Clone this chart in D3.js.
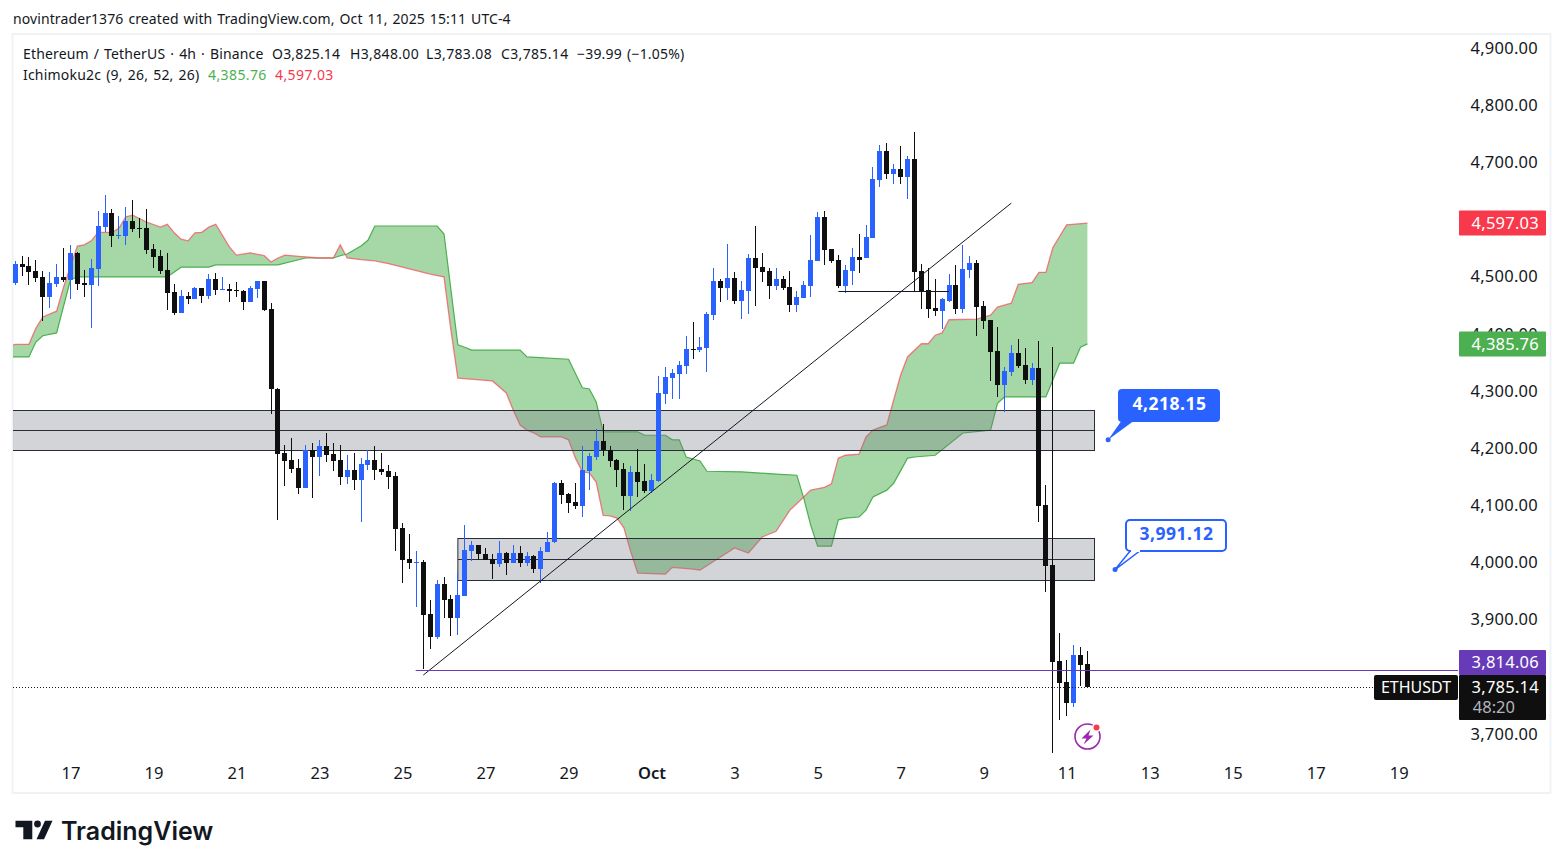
<!DOCTYPE html>
<html lang="en">
<head>
<meta charset="UTF-8">
<title>ETHUSDT 4h</title>
<script src="https://d3js.org/d3.v7.min.js"></script>
<style>
  body { margin: 0; background: #fff; }
  svg { display: block; font-family: "Noto Sans", sans-serif; }
  .tick text { fill: #131722; }
</style>
</head>
<body>
<svg id="chart" width="1563" height="868"></svg>
<script>
// candles, one entry per 4h bar
var opens = [
  4492,4525,4522,4513,4502,4467,4490,4502,4497,4544,4492,4488,4516,4590,4614,4574,4574,4600,4588,4588,
  4551,4539,4515,4476,4439,4469,4464,4483,4469,4499,4480,4481,4480,4478,4459,4481,4495,4446,4307,4195,
  4182,4168,4133,4200,4188,4207,4193,4182,4153,4165,4147,4174,4182,4167,4163,4154,4063,4009,4002,4004,
  3913,3873,3965,3939,3906,3944,4023,4034,4019,4009,4000,4020,4002,4020,4002,4014,3992,4021,4040,4142,
  4123,4109,4102,4163,4188,4216,4200,4182,4167,4119,4161,4146,4128,4146,4298,4326,4333,4347,4377,4375,
  4378,4436,4496,4483,4501,4461,4478,4536,4520,4513,4487,4499,4485,4454,4466,4487,4531,4608,4552,4532,
  4487,4513,4538,4536,4571,4672,4723,4683,4691,4677,4709,4513,4480,4448,4443,4461,4489,4447,4515,4527,
  4452,4427,4373,4314,4336,4370,4349,4322,4343,4104,3999,3831,3794,3757,3841,3825.14
];
var highs = [
  4530,4539,4537,4532,4513,4511,4525,4553,4558,4546,4515,4534,4618,4646,4621,4609,4625,4637,4606,4621,
  4560,4550,4544,4490,4480,4476,4485,4483,4508,4509,4502,4490,4494,4480,4487,4495,4495,4457,4309,4209,
  4221,4184,4209,4212,4217,4230,4212,4209,4191,4195,4186,4200,4207,4195,4174,4161,4072,4053,4023,4007,
  3938,3972,3978,3946,3987,4069,4041,4034,4028,4018,4041,4021,4034,4032,4021,4016,4030,4056,4145,4147,
  4125,4142,4207,4195,4237,4245,4207,4184,4177,4172,4202,4175,4158,4329,4345,4342,4356,4399,4424,4398,
  4441,4518,4499,4560,4511,4496,4543,4592,4545,4518,4518,4504,4513,4478,4496,4576,4616,4618,4552,4541,
  4523,4553,4578,4593,4695,4733,4737,4700,4732,4714,4756,4525,4518,4499,4466,4508,4524,4559,4539,4532,
  4461,4427,4415,4345,4384,4394,4378,4352,4391,4139,4380,3880,3833,3859,3855,3848
];
var lows = [
  4489,4504,4488,4494,4425,4448,4485,4494,4464,4480,4467,4413,4487,4581,4555,4569,4558,4581,4571,4543,
  4518,4508,4445,4436,4439,4455,4464,4457,4464,4471,4480,4459,4467,4445,4459,4466,4443,4263,4077,4137,
  4160,4123,4133,4116,4154,4179,4163,4139,4140,4130,4074,4165,4147,4156,4132,4023,3967,3992,3925,3817,
  3852,3869,3906,3875,3876,3944,4006,4007,4007,3974,3995,3981,4002,3995,3997,3985,3967,4021,4037,4105,
  4090,4097,4083,4130,4182,4189,4170,4135,4095,4093,4118,4125,4125,4144,4280,4289,4289,4333,4359,4371,
  4336,4427,4459,4462,4455,4429,4438,4452,4494,4464,4480,4480,4441,4441,4466,4468,4531,4523,4527,4483,
  4475,4489,4510,4536,4571,4660,4674,4665,4665,4639,4476,4447,4431,4434,4412,4459,4438,4440,4501,4399,
  4412,4321,4293,4266,4329,4343,4315,4314,4074,3952,3670,3728,3735,3750,3787,3783.08
];
var closes = [
  4525,4520,4511,4501,4467,4492,4502,4497,4544,4490,4488,4518,4592,4614,4574,4576,4600,4586,4586,4550,
  4537,4513,4474,4439,4469,4464,4483,4469,4499,4480,4481,4478,4478,4459,4483,4495,4445,4307,4193,4181,
  4167,4133,4200,4188,4207,4191,4181,4153,4165,4147,4175,4182,4165,4161,4153,4062,4007,4002,4004,3911,
  3873,3965,3938,3906,3946,4025,4034,4018,4007,4000,4020,4002,4020,4002,4014,3992,4023,4040,4142,4121,
  4107,4102,4165,4189,4216,4200,4181,4165,4119,4161,4144,4128,4147,4300,4328,4335,4349,4377,4375,4380,
  4438,4496,4483,4501,4461,4480,4536,4518,4511,4487,4499,4483,4454,4468,4489,4532,4608,4550,4531,4487,
  4515,4538,4532,4573,4674,4723,4683,4691,4677,4709,4511,4478,4447,4443,4464,4489,4447,4517,4527,4450,
  4426,4371,4314,4338,4370,4347,4322,4343,4102,3997,3829,3792,3757,3841,3824,3785.14
];

// cloud edges: bar number and price at each corner of the line
var redBars = [-1,0,2,3,4,6,7,9,10,11,12,14,15,16,17,19,21,22,23,24,25,26,27,28,29,31,32,34,36,37,38,39,41,44,46,47,48,50,52,54,60,62,63,64,69,71,72,73,74,75,76,79,80,81,82,83,84,85,86,87,88,89,90,94,95,98,99,104,106,108,110,112,114,115,117,118,119,120,122,123,124,126,127,128,129,131,132,133,134,135,139,141,142,144,145,147,148,149,150,152,155];
var redVals = [4380,4385,4385,4413,4433,4443,4485,4557,4559,4566,4581,4581,4588,4608,4611,4599,4590,4595,4580,4569,4566,4580,4581,4590,4595,4555,4541,4545,4540,4529,4536,4541,4539,4536,4536,4559,4536,4533,4531,4526,4508,4503,4410,4326,4321,4300,4270,4244,4235,4230,4223,4223,4218,4186,4162,4160,4144,4086,4085,4081,4064,4022,3985,3983,3995,3992,3990,4029,4020,4048,4058,4095,4118,4130,4135,4141,4186,4191,4193,4223,4235,4244,4288,4331,4363,4386,4386,4401,4405,4428,4429,4436,4450,4457,4490,4493,4511,4511,4554,4594,4597.03];
var greenBars = [-1,2,3,4,6,8,9,22,24,28,29,38,42,46,47,48,50,51,52,61,62,63,64,65,66,73,74,80,82,83,84,85,90,91,94,95,96,97,99,100,105,110,113,114,115,116,118,119,120,122,123,124,126,127,129,130,133,137,141,142,143,149,151,153,154,155];
var greenVals = [4363,4363,4389,4400,4405,4498,4503,4503,4520,4520,4524,4524,4536,4536,4540,4543,4557,4567,4592,4592,4578,4480,4384,4380,4375,4375,4363,4359,4309,4307,4284,4232,4232,4226,4226,4218,4218,4188,4181,4163,4162,4158,4156,4116,4069,4032,4032,4078,4081,4083,4095,4118,4130,4142,4186,4188,4191,4230,4235,4282,4293,4293,4352,4352,4380,4385.76];

// drawings
var zoneStart = [-1, 64];
var zoneEnd = [156, 156];
var zoneTop = [4269.5, 4045.6];
var zoneMid = [4234.6, 4008.9];
var zoneBottom = [4199.6, 3972.2];
var trendBars = [59, 144];
var trendVals = [3806.5, 4632];
var flatBars = [119, 135];
var flatVal = 4477.7;
var supportStart = 57.9;
var supportVal = 3814.06;
var lastClose = 3785.14;
var redLast = 4597.03;
var greenLast = 4385.76;
var noteVals = [4218.15, 3991.12];
var noteBars = [158, 159];

// axes, 3,800 and 4,600 are not shown because the price labels cover them
var priceTicks = [3700,3900,4000,4100,4200,4300,4400,4500,4700,4800,4900];
var timeBars = [8,20,32,44,56,68,80,92,104,116,128,140,152,164,176,188,200];
var timeLabels = ["17","19","21","23","25","27","29","Oct","3","5","7","9","11","13","15","17","19"];

var fmt = d3.format(",.2f");
var svg = d3.select("#chart");

var x = d3.scaleLinear().domain([0, 155]).range([15.1, 1087.4]);
var y = d3.scaleLinear().domain([3785.14, 4900]).range([687.3, 49.9]);

var left = 13, right = 1458, top_ = 35, bottom = 792;

// frame
svg.append("rect").attr("x", 12.5).attr("y", 34).attr("width", 1538).attr("height", 759)
  .attr("fill", "#fff").attr("stroke", "#f0f3f5").attr("stroke-width", 2);

svg.append("clipPath").attr("id", "plot").append("rect")
  .attr("x", left).attr("y", top_).attr("width", right - left).attr("height", bottom - top_);

var plot = svg.append("g").attr("clip-path", "url(#plot)");

// cloud, forward along green and back along red
var redPts = redBars.map(function(b, i) { return [x(b), y(redVals[i])]; });
var greenPts = greenBars.map(function(b, i) { return [x(b), y(greenVals[i])]; });
var line = d3.line();

plot.append("path").attr("d", line(greenPts.concat(redPts.slice().reverse())) + "Z")
  .attr("fill", "#4caf50").attr("fill-opacity", 0.5).attr("fill-rule", "nonzero");
plot.append("path").attr("d", line(greenPts)).attr("fill", "none")
  .attr("stroke", "#4caf50").attr("stroke-width", 1.2);
plot.append("path").attr("d", line(redPts)).attr("fill", "none")
  .attr("stroke", "#f7525f").attr("stroke-opacity", 0.75).attr("stroke-width", 1.3);

// grey zones
zoneTop.forEach(function(t, i) {
  var x0 = x(zoneStart[i]), x1 = Math.round(x(zoneEnd[i])) + 0.5;
  var yt = Math.round(y(t)) + 0.5, ym = Math.round(y(zoneMid[i])) + 0.5, yb = Math.round(y(zoneBottom[i])) + 0.5;
  plot.append("rect").attr("x", x0).attr("y", yt).attr("width", x1 - x0).attr("height", yb - yt)
    .attr("fill", "#787b86").attr("fill-opacity", 0.33).attr("stroke", "#2a2e39").attr("stroke-width", 1);
  plot.append("line").attr("x1", x0).attr("x2", x1).attr("y1", ym).attr("y2", ym)
    .attr("stroke", "#2a2e39").attr("stroke-width", 1);
});

// candles
var bars = d3.range(opens.length);
var candle = plot.selectAll(".candle").data(bars).enter().append("g").attr("class", "candle")
  .attr("fill", function(i) { return closes[i] >= opens[i] ? "#2962ff" : "#0f0f0f"; });

candle.append("rect")
  .attr("x", function(i) { return Math.floor(x(i)); })
  .attr("width", 1)
  .attr("y", function(i) { return Math.round(y(highs[i])); })
  .attr("height", function(i) { return Math.round(y(lows[i])) - Math.round(y(highs[i])); });

candle.append("rect")
  .attr("x", function(i) { return Math.floor(x(i)) - 2; })
  .attr("width", 5)
  .attr("y", function(i) { return Math.round(y(Math.max(opens[i], closes[i]))); })
  .attr("height", function(i) {
    return Math.max(1, Math.round(y(Math.min(opens[i], closes[i]))) - Math.round(y(Math.max(opens[i], closes[i]))));
  });

// trend line and horizontal lines
plot.append("line").attr("x1", x(trendBars[0])).attr("y1", y(trendVals[0]))
  .attr("x2", x(trendBars[1])).attr("y2", y(trendVals[1]))
  .attr("stroke", "#131722").attr("stroke-width", 1);
plot.append("line").attr("x1", x(flatBars[0])).attr("x2", x(flatBars[1]))
  .attr("y1", Math.round(y(flatVal)) + 0.5).attr("y2", Math.round(y(flatVal)) + 0.5)
  .attr("stroke", "#131722").attr("stroke-width", 1);
plot.append("line").attr("x1", x(supportStart)).attr("x2", right)
  .attr("y1", Math.floor(y(supportVal)) + 0.5).attr("y2", Math.floor(y(supportVal)) + 0.5)
  .attr("stroke", "#673ab7").attr("stroke-width", 1);
plot.append("line").attr("x1", left).attr("x2", 1375)
  .attr("y1", Math.floor(y(lastClose)) + 0.5).attr("y2", Math.floor(y(lastClose)) + 0.5)
  .attr("stroke", "#131722").attr("stroke-width", 1).attr("stroke-dasharray", "1 2");

// callouts
var blue = "#2962ff";
var ax0 = x(noteBars[0]), ay0 = y(noteVals[0]);
svg.append("path").attr("d", line([[ax0, ay0], [1122, 420], [1135, 420]]) + "Z").attr("fill", blue);
svg.append("circle").attr("cx", ax0).attr("cy", ay0).attr("r", 2.5).attr("fill", blue);
svg.append("rect").attr("x", 1118).attr("y", 389).attr("width", 102).attr("height", 33).attr("rx", 4).attr("fill", blue);
svg.append("text").attr("x", 1169.5).attr("y", 404).attr("dy", "0.35em").attr("text-anchor", "middle")
  .attr("fill", "#fff").attr("font-size", 17.5).attr("font-weight", 700).attr("letter-spacing", 0.5).text(fmt(noteVals[0]));

var ax1 = x(noteBars[1]), ay1 = y(noteVals[1]);
svg.append("path").attr("d", line([[ax1, ay1], [1131, 550], [1141, 550]]) + "Z")
  .attr("fill", "#fff").attr("stroke", blue).attr("stroke-width", 1.5);
svg.append("rect").attr("x", 1126).attr("y", 520).attr("width", 100).attr("height", 31).attr("rx", 4)
  .attr("fill", "#fff").attr("stroke", blue).attr("stroke-width", 2);
svg.append("rect").attr("x", 1131).attr("y", 548).attr("width", 9).attr("height", 4).attr("fill", "#fff");
svg.append("circle").attr("cx", ax1).attr("cy", ay1).attr("r", 2.5).attr("fill", blue);
svg.append("text").attr("x", 1176.5).attr("y", 534).attr("dy", "0.35em").attr("text-anchor", "middle")
  .attr("fill", blue).attr("font-size", 17.5).attr("font-weight", 700).attr("letter-spacing", 0.5).text(fmt(noteVals[1]));

// price axis, labels sit a little above the true level like the original
var priceAxis = svg.append("g").attr("transform", "translate(1470.5,0)")
  .call(d3.axisRight(y).tickValues(priceTicks).tickSize(0).tickPadding(0).tickFormat(fmt));
priceAxis.select(".domain").remove();
priceAxis.selectAll("text").attr("dy", "0.2em").attr("font-size", 16.5).attr("letter-spacing", 0.25)
  .attr("font-family", "'Noto Sans', sans-serif");

// time axis
var timeAxis = svg.append("g").attr("transform", "translate(0,764)")
  .call(d3.axisBottom(x).tickValues(timeBars).tickSize(0).tickPadding(0).tickFormat(function(d, i) { return timeLabels[i]; }));
timeAxis.select(".domain").remove();
timeAxis.selectAll("text").attr("y", 0).attr("dy", "0.9em").attr("font-size", 16.5)
  .attr("font-family", "'Noto Sans', sans-serif")
  .attr("font-weight", function(d, i) { return timeLabels[i] === "Oct" ? 600 : 400; });

// price labels on the axis
function priceLabel(val, color, offset) {
  var cy = y(val) + offset;
  svg.append("rect").attr("x", 1459).attr("y", cy - 12.5).attr("width", 87).attr("height", 25)
    .attr("rx", 1).attr("fill", color);
  svg.append("text").attr("x", 1539).attr("y", cy).attr("dy", "0.35em").attr("text-anchor", "end")
    .attr("fill", "#fff").attr("font-size", 16.5).attr("letter-spacing", 0.25).text(fmt(val));
}
priceLabel(redLast, "#f7394b", 0);
priceLabel(greenLast, "#4caf50", 0);
priceLabel(supportVal, "#673ab7", -8.3);

var ly = y(lastClose);
svg.append("rect").attr("x", 1459).attr("y", ly - 12.3).attr("width", 87).attr("height", 45).attr("rx", 1).attr("fill", "#0f0f0f");
svg.append("text").attr("x", 1539).attr("y", ly).attr("dy", "0.35em").attr("text-anchor", "end")
  .attr("fill", "#fff").attr("font-size", 16.5).attr("letter-spacing", 0.25).text(fmt(lastClose));
svg.append("text").attr("x", 1515).attr("y", ly + 20).attr("dy", "0.35em").attr("text-anchor", "end")
  .attr("fill", "#b2b5be").attr("font-size", 16.5).text("48:20");
svg.append("rect").attr("x", 1374).attr("y", ly - 12.3).attr("width", 84).attr("height", 25).attr("rx", 2).attr("fill", "#0f0f0f");
svg.append("text").attr("x", 1416).attr("y", ly).attr("dy", "0.35em").attr("text-anchor", "middle")
  .attr("fill", "#fff").attr("font-size", 16).text("ETHUSDT");

// flash icon under the last bars
var icon = svg.append("g").attr("transform", "translate(1087.5,736.5)");
icon.append("circle").attr("r", 12.5).attr("fill", "#fff").attr("stroke", "#9c27b0").attr("stroke-width", 1.6);
icon.append("path").attr("d", "M3,-7 L-6,2 L-1,2 L-4,8 L6,-1 L1,-1 Z").attr("fill", "#9c27b0");
icon.append("circle").attr("cx", 9).attr("cy", -9).attr("r", 4.5).attr("fill", "#fff");
icon.append("circle").attr("cx", 9).attr("cy", -9).attr("r", 3).attr("fill", "#f7394b");

// header and legend
function label(tx, ty, str, color, spacing) {
  svg.append("text").attr("x", tx).attr("y", ty).attr("dy", "0.35em")
    .attr("fill", color || "#131722").attr("font-size", 14)
    .attr("letter-spacing", spacing === undefined ? 0.1 : spacing).attr("word-spacing", 1.2).text(str);
}
label(13, 19, "novintrader1376 created with TradingView.com, Oct 11, 2025 15:11 UTC-4");
label(23, 54, "Ethereum / TetherUS \u00b7 4h \u00b7 Binance", null, 0.15);
label(272, 54, "O3,825.14", null, 0.2);
label(350, 54, "H3,848.00", null, 0.35);
label(426, 54, "L3,783.08", null, 0.35);
label(501, 54, "C3,785.14", null, 0.35);
label(577, 54, "\u221239.99 (\u22121.05%)", null, 0.2);
label(23, 75, "Ichimoku2c (9, 26, 52, 26)", null, 0.2);
label(208, 75, fmt(greenLast), "#4caf50", 0.4);
label(275, 75, fmt(redLast), "#f7394b", 0.4);

// logo
var logo = svg.append("g").attr("fill", "#131722");
logo.append("path").attr("d", "M15.5,820.7 H32.3 V839.3 H23.3 V827.3 H15.5 Z");
logo.append("circle").attr("cx", 37.5).attr("cy", 824).attr("r", 3.4);
logo.append("path").attr("d", "M45,820.7 H52.5 L44,839.3 H36.5 Z");
svg.append("text").attr("x", 61).attr("y", 840).attr("fill", "#131722").attr("font-family", "Inter, sans-serif")
  .attr("font-size", 25).attr("font-weight", 600).text("TradingView");
</script>
</body>
</html>
